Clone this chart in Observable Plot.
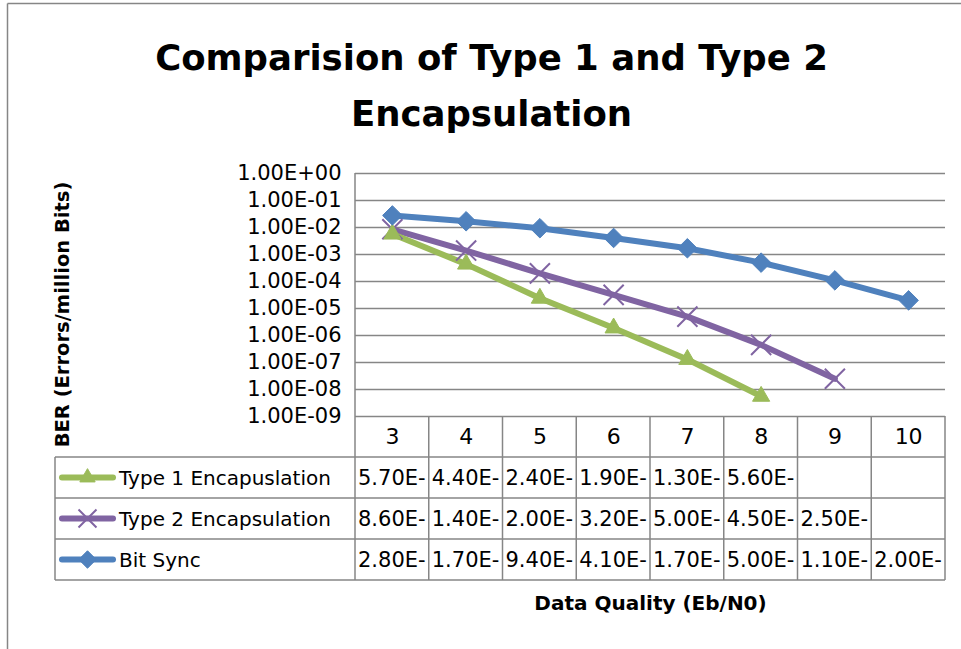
<!DOCTYPE html>
<html>
<head>
<meta charset="utf-8">
<script src="https://cdn.jsdelivr.net/npm/d3@7"></script>
<script src="https://cdn.jsdelivr.net/npm/@observablehq/plot@0.6"></script>
<style>
  html, body { margin: 0; padding: 0; background: #fff; }
  #chart svg { display: block; }
</style>
</head>
<body>
<div id="chart"></div>
<script>
// ---- data ----
const categories = [3, 4, 5, 6, 7, 8, 9, 10];
const type1 = [5.7e-3, 4.4e-4, 2.4e-5, 1.9e-6, 1.3e-7, 5.6e-9];
const type2 = [8.6e-3, 1.4e-3, 2.0e-4, 3.2e-5, 5.0e-6, 4.5e-7, 2.5e-8];
const bitSync = [2.8e-2, 1.7e-2, 9.4e-3, 4.1e-3, 1.7e-3, 5.0e-4, 1.1e-4, 2.0e-5];
const seriesNames = ["Type 1 Encapuslation", "Type 2 Encapsulation", "Bit Sync"];
const yTicks = [1e0, 1e-1, 1e-2, 1e-3, 1e-4, 1e-5, 1e-6, 1e-7, 1e-8, 1e-9];
const yTickLabels = ["1.00E+00", "1.00E-01", "1.00E-02", "1.00E-03", "1.00E-04",
                     "1.00E-05", "1.00E-06", "1.00E-07", "1.00E-08", "1.00E-09"];
const titleLines = ["Comparision of Type 1 and Type 2", "Encapsulation"];
const yTitle = "BER (Errors/million Bits)";
const xTitle = "Data Quality (Eb/N0)";

// ---- styles ----
const colors = ["#9BBB59", "#8064A2", "#4F81BD"];
const symbols = ["triangle2", "times", "diamond2"];
const symbolR = [8.2, 9.2, 8.8];
const gridColor = "#868686";
const W = 961, H = 649;
const mL = 355, mR = 16, mT = 173, mB = 233;
const rowH = 41;
const colW = (W - mL - mR) / categories.length;

const seriesValues = [type1, type2, bitSync];
const points = seriesValues.flatMap((vals, s) =>
  vals.map((v, i) => ({series: seriesNames[s], s, x: categories[i], y: v})));
const cellLabel = v => v.toExponential(2).toUpperCase().split("-")[0] + "-";
const cells = seriesValues.map(vals =>
  vals.map((v, i) => ({x: categories[i], label: cellLabel(v)})));

function tableMark(index, scales, values, dim) {
  const g = d3.create("svg:g");
  const x = scales.x;
  const top = dim.height - dim.marginBottom;
  const left = dim.marginLeft, right = dim.width - dim.marginRight;
  const legendLeft = 55;
  const bottom = top + rowH * 4;
  const ln = (x1, y1, x2, y2) => g.append("line")
    .attr("x1", x1).attr("y1", y1).attr("x2", x2).attr("y2", y2)
    .attr("stroke", gridColor).attr("stroke-width", 1.5);
  // chart-area border
  ln(7.5, 3.5, W, 3.5);
  ln(7.5, 3.5, 7.5, H);
  // vertical plot-area / column lines
  ln(left, dim.marginTop, left, bottom);
  categories.forEach(c => ln(x(c + 0.5), top, x(c + 0.5), bottom));
  // horizontal table rows
  for (let r = 1; r <= 3; r++) ln(legendLeft, top + rowH * r, right, top + rowH * r);
  ln(legendLeft, bottom, right, bottom);
  ln(legendLeft, top + rowH, legendLeft, bottom);
  // legend keys
  seriesNames.forEach((name, s) => {
    const cy = top + rowH * (s + 1) + rowH / 2;
    g.append("line").attr("x1", 62).attr("x2", 113).attr("y1", cy).attr("y2", cy)
      .attr("stroke", colors[s]).attr("stroke-width", 6).attr("stroke-linecap", "round");
    const sym = d3.symbol(
      [d3.symbolTriangle2, d3.symbolTimes, d3.symbolDiamond2][s],
      Math.PI * symbolR[s] * symbolR[s] * 0.8)();
    g.append("path").attr("d", sym).attr("transform", `translate(87.5,${cy})`)
      .attr("fill", s === 1 ? "none" : colors[s])
      .attr("stroke", colors[s]).attr("stroke-width", s === 1 ? 2 : 1);
    g.append("text").attr("x", 119).attr("y", cy).attr("dy", "0.36em")
      .attr("text-anchor", "start")
      .attr("font-family", "DejaVu Sans").attr("font-size", 20)
      .attr("fill", "#000").text(name);
  });
  return g.node();
}

const chart = Plot.plot({
  width: W,
  height: H,
  marginLeft: mL,
  marginRight: mR,
  marginTop: mT,
  marginBottom: mB,
  style: {fontFamily: "DejaVu Sans", background: "#fff", color: "#000"},
  x: {type: "linear", domain: [categories[0] - 0.5, categories[categories.length - 1] + 0.5]},
  y: {type: "log", domain: [1e-9, 1]},
  marks: [
    Plot.gridY(yTicks, {stroke: gridColor, strokeOpacity: 1, strokeWidth: 1.5}),
    tableMark,
    Plot.axisY(yTicks, {
      tickSize: 0, tickPadding: 14, fontSize: 21, label: null,
      tickFormat: d => yTickLabels[yTicks.indexOf(d)]
    }),
    Plot.axisX(categories, {
      tickSize: 0, tickPadding: 12, fontSize: 22, label: null, tickFormat: d => String(d)
    }),
    // series lines: purple, green, blue
    ...[1, 0, 2].map(s => Plot.line(points.filter(d => d.s === s), {
      x: "x", y: "y", stroke: colors[s], strokeWidth: 6, strokeLinejoin: "round"
    })),
    ...[1, 0, 2].map(s => Plot.dot(points.filter(d => d.s === s), {
      x: "x", y: "y", symbol: symbols[s],
      r: symbolR[s],
      fill: s === 1 ? "none" : colors[s],
      stroke: colors[s], strokeWidth: s === 1 ? 2 : 1
    })),
    // table cell values
    ...cells.map((row, s) => Plot.text(row, {
      x: "x", text: "label", frameAnchor: "bottom", textAnchor: "start", lineAnchor: "middle",
      dx: -colW / 2 + 2.5, dy: rowH * (s + 1) + rowH / 2,
      fontSize: 21, fill: "#000"
    })),
    // titles
    Plot.text([titleLines[0]], {frameAnchor: "top-left", textAnchor: "middle", lineAnchor: "middle",
      dx: 491 - mL, dy: 58 - mT,
      text: d => d, fontSize: 35.5, fontWeight: "bold", fill: "#000"}),
    Plot.text([titleLines[1]], {frameAnchor: "top-left", textAnchor: "middle", lineAnchor: "middle",
      dx: 491 - mL, dy: 114 - mT,
      text: d => d, fontSize: 35.5, fontWeight: "bold", fill: "#000"}),
    Plot.text([yTitle], {frameAnchor: "top-left", textAnchor: "middle", lineAnchor: "middle",
      dx: 62 - mL, dy: 314 - mT, rotate: -90,
      text: d => d, fontSize: 19.5, fontWeight: "bold", fill: "#000"}),
    Plot.text([xTitle], {frameAnchor: "bottom-left", textAnchor: "middle", lineAnchor: "middle",
      dx: 650 - mL, dy: 603 - (H - mB),
      text: d => d, fontSize: 20, fontWeight: "bold", fill: "#000"})
  ]
});
document.getElementById("chart").appendChild(chart);
</script>
</body>
</html>
